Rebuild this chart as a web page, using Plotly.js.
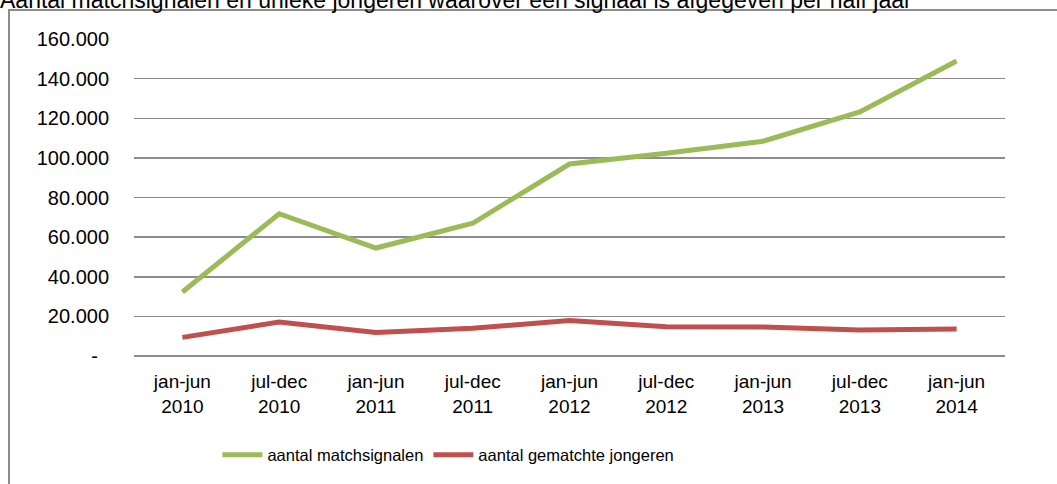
<!DOCTYPE html>
<html>
<head>
<meta charset="utf-8">
<script src="https://cdn.plot.ly/plotly-3.0.1.min.js"></script>
<style>
  html, body { margin: 0; padding: 0; background: #fff; overflow: hidden; }
  #chart { width: 1057px; height: 484px; }
</style>
</head>
<body>
<div id="chart"></div>
<script>
var periods = [
    "jan-jun<br>2010", "jul-dec<br>2010", "jan-jun<br>2011", "jul-dec<br>2011",
    "jan-jun<br>2012", "jul-dec<br>2012", "jan-jun<br>2013", "jul-dec<br>2013",
    "jan-jun<br>2014"
];
var matchsignalen = [32300, 71800, 54500, 67000, 96900, 102300, 108400, 123200, 148900];
var gematchteJongeren = [9400, 17100, 11900, 14000, 17900, 14800, 14600, 13100, 13600];

var yTickVals = [0, 20000, 40000, 60000, 80000, 100000, 120000, 140000, 160000];
var yTickText = ["-\u00a0\u00a0", "20.000", "40.000", "60.000", "80.000", "100.000", "120.000", "140.000", "160.000"];

var fontFamily = "Liberation Sans, Arial, sans-serif";

var data = [
    {
        x: periods,
        y: matchsignalen,
        type: "scatter",
        mode: "lines",
        name: "aantal matchsignalen",
        line: {color: "#9BBB59", width: 5}
    },
    {
        x: periods,
        y: gematchteJongeren,
        type: "scatter",
        mode: "lines",
        name: "aantal gematchte jongeren",
        line: {color: "#C0504D", width: 5}
    }
];

var layout = {
    width: 1057,
    height: 484,
    margin: {l: 134, r: 52, t: 39, b: 128},
    paper_bgcolor: "rgba(0,0,0,0)",
    plot_bgcolor: "rgba(0,0,0,0)",
    font: {family: fontFamily, size: 19, color: "#000"},
    title: {
        text: "Aantal matchsignalen en unieke jongeren waarover een signaal is afgegeven per half jaar",
        font: {family: fontFamily, size: 23, color: "#000"},
        x: 0, xref: "container", xanchor: "left",
        y: 1, yref: "container", yanchor: "middle"
    },
    xaxis: {
        type: "category",
        range: [-0.5, 8.5],
        showgrid: false,
        zeroline: false,
        showline: false,
        ticks: "",
        ticklabelstandoff: 12,
        tickfont: {family: fontFamily, size: 19}
    },
    yaxis: {
        range: [0, 160000],
        tickvals: yTickVals,
        ticktext: yTickText,
        showgrid: true,
        gridcolor: "#8C8C8C",
        gridwidth: 1.5,
        zeroline: true,
        zerolinecolor: "#8C8C8C",
        zerolinewidth: 1.5,
        showline: false,
        ticks: "",
        ticklabelstandoff: 24,
        tickfont: {family: fontFamily, size: 20}
    },
    legend: {
        orientation: "h",
        x: 0.361, xanchor: "center",
        y: -0.312, yanchor: "middle",
        font: {family: fontFamily, size: 16.5},
        itemwidth: 40
    },
    shapes: [{
        type: "rect",
        xref: "paper", yref: "paper",
        x0: -0.1435, x1: 1.2,
        y0: -0.6, y1: 1.0915,
        line: {color: "#8C8C8C", width: 2},
        layer: "below"
    }],
    showlegend: true
};

Plotly.newPlot("chart", data, layout, {displayModeBar: false, staticPlot: true});
</script>
</body>
</html>
